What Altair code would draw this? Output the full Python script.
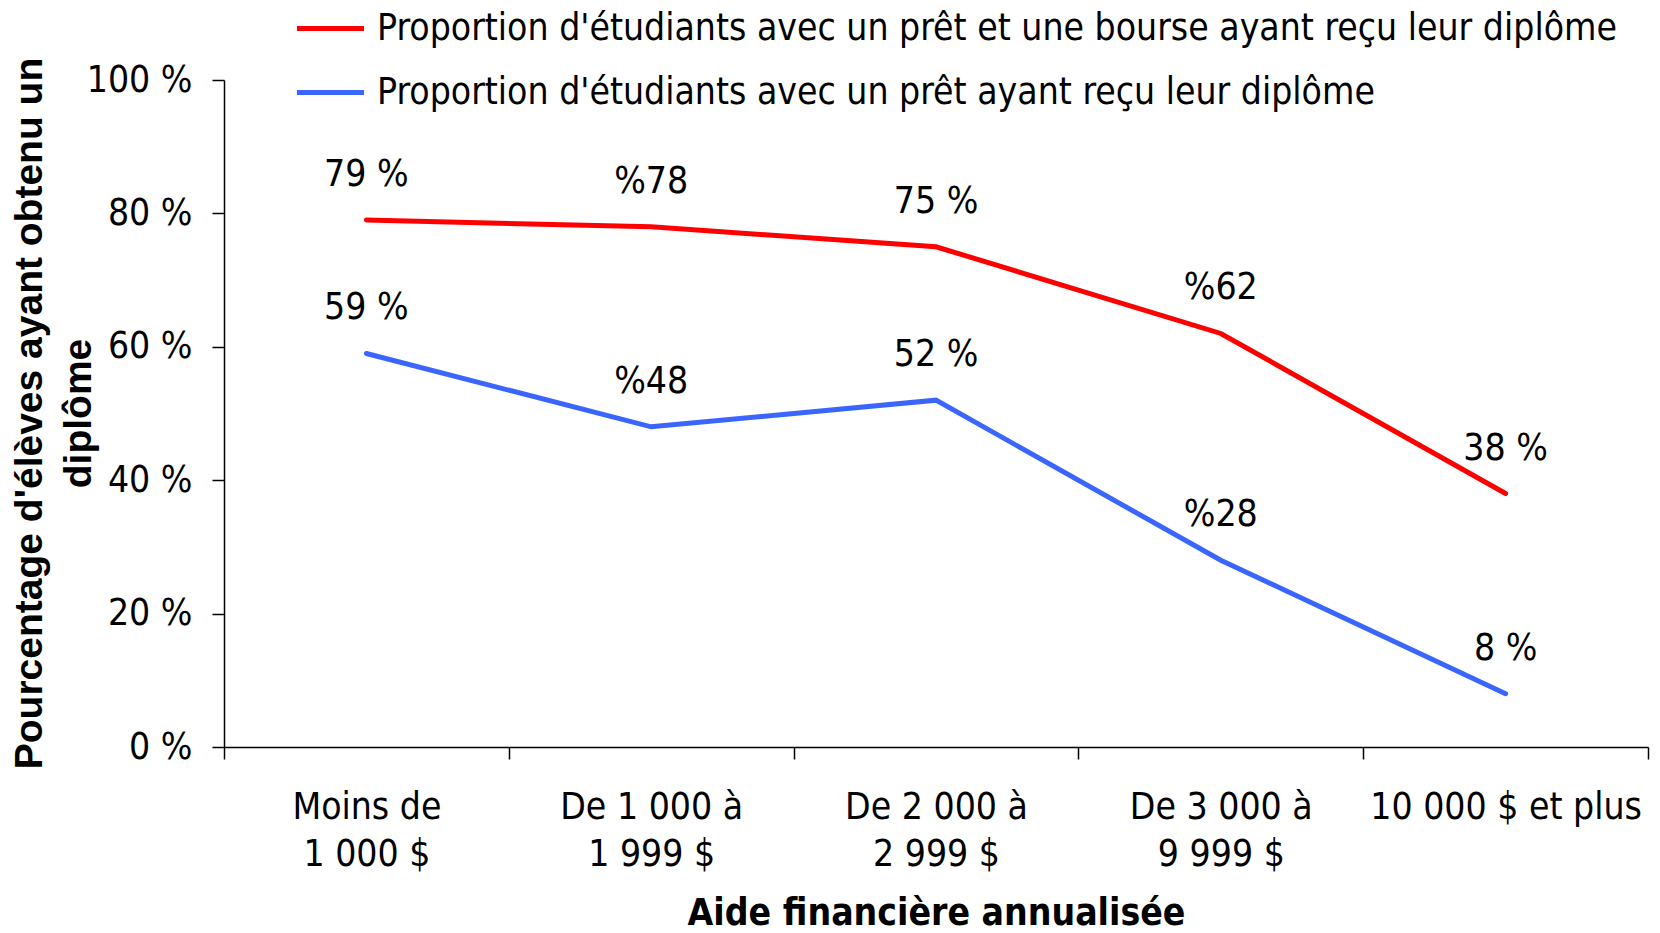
import altair as alt
import pandas as pd

categories = ["Moins de|1 000 $", "De 1 000 à|1 999 $", "De 2 000 à|2 999 $", "De 3 000 à|9 999 $", "10 000 $ et plus"]
series_names = [
    "Proportion d'étudiants avec un prêt et une bourse ayant reçu leur diplôme",
    "Proportion d'étudiants avec un prêt ayant reçu leur diplôme",
]
pret_bourse = [79, 78, 75, 62, 38]
pret = [59, 48, 52, 28, 8]
labels_pret_bourse = ["79 %", "%78", "75 %", "%62", "38 %"]
labels_pret = ["59 %", "%48", "52 %", "%28", "8 %"]
y_ticks = [0, 20, 40, 60, 80, 100]
colors = ["#FF0000", "#3A66FF"]

rows = []
for i, c in enumerate(categories):
    rows.append({"cat": c, "series": series_names[0], "value": pret_bourse[i], "label": labels_pret_bourse[i]})
for i, c in enumerate(categories):
    rows.append({"cat": c, "series": series_names[1], "value": pret[i], "label": labels_pret[i]})
df = pd.DataFrame(rows)

FONT = "DejaVu Sans Condensed"
FS = 37

x_enc = alt.X(
    "cat:N",
    sort=categories,
    bandPosition=0.5,
    scale=alt.Scale(type="band", paddingInner=0, paddingOuter=0),
    axis=alt.Axis(
        title="Aide financière annualisée",
        titleFont=FONT,
        titleFontSize=37,
        titleFontWeight="bold",
        titleColor="black",
        titlePadding=23,
        labelExpr="split(datum.label, '|')",
        labelFont=FONT,
        labelFontSize=FS,
        labelColor="black",
        labelLineHeight=47,
        labelPadding=30,
        labelLimit=0,
        labelAngle=0,
        tickBand="extent",
        tickSize=12,
        tickColor="black",
        domainColor="black",
        tickWidth=1.5,
        domainWidth=1.5,
        grid=False,
    ),
)

y_enc = alt.Y(
    "value:Q",
    scale=alt.Scale(domain=[0, 100], nice=False),
    axis=alt.Axis(
        title=["Pourcentage d'élèves ayant obtenu un", "diplôme"],
        titleFont="Liberation Sans",
        titleFontSize=39,
        titleFontWeight="bold",
        titleColor="black",
        titleLineHeight=49,
        titleX=-195,
        titleY=333,
        titleAngle=270,
        titleAlign="center",
        titleBaseline="middle",
        values=y_ticks,
        labelExpr="datum.value + ' %'",
        labelFont=FONT,
        labelFontSize=FS,
        labelColor="black",
        labelPadding=20,
        tickSize=12,
        tickColor="black",
        domainColor="black",
        tickWidth=1.5,
        domainWidth=1.5,
        grid=False,
    ),
)

color_enc = alt.Color(
    "series:N",
    sort=series_names,
    scale=alt.Scale(domain=series_names, range=colors),
    legend=alt.Legend(
        title=None,
        orient="none",
        legendX=70,
        legendY=-88,
        symbolType="stroke",
        symbolSize=4500,
        symbolStrokeWidth=5,
        labelFont=FONT,
        labelFontSize=FS,
        labelColor="black",
        labelOffset=10,
        labelLimit=2000,
        rowPadding=9,
    ),
)

lines = alt.Chart(df).mark_line(strokeWidth=5, strokeCap="round").encode(
    x=x_enc, y=y_enc, color=color_enc
)

text = alt.Chart(df).mark_text(
    font=FONT, fontSize=FS, color="black", dy=-45
).encode(
    x=alt.X("cat:N", sort=categories, bandPosition=0.5),
    y="value:Q",
    text="label:N",
)

chart = alt.layer(lines, text).properties(
    width=1424,
    height=667,
    padding={"left": 216, "top": 72, "right": 4, "bottom": 185},
    autosize=alt.AutoSizeParams(type="none"),
).configure_view(stroke=None)

chart.save("out.html", embed_options={"renderer": "svg", "actions": False})
